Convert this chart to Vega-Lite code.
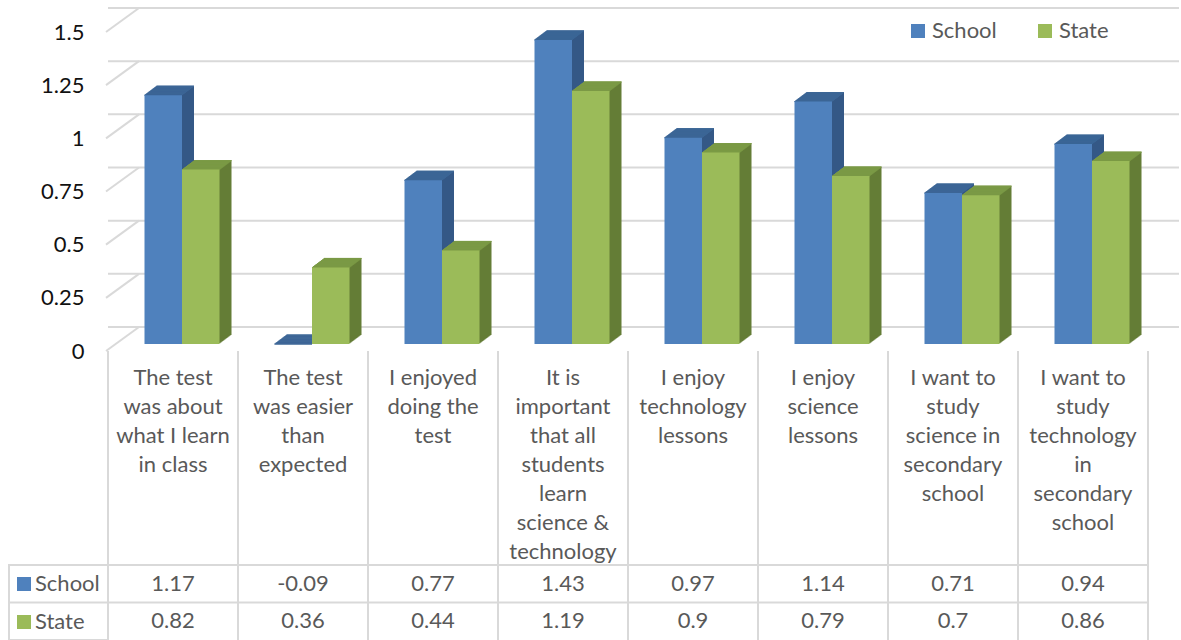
{
  "$schema": "https://vega.github.io/schema/vega-lite/v6.json",
  "autosize": {"type": "pad"},
  "padding": {"left": 7, "top": 7, "right": 0, "bottom": 0},
  "background": "white",
  "config": {
    "view": {"stroke": null},
    "font": "Lato",
    "text": {"font": "Lato"},
    "axis": {"labelFont": "Lato"},
    "legend": {"labelFont": "Lato"}
  },
  "datasets": {
    "survey": [
      {"q": "The test\nwas about\nwhat I learn\nin class", "s": "School", "v": 1.17},
      {"q": "The test\nwas about\nwhat I learn\nin class", "s": "State", "v": 0.82},
      {"q": "The test\nwas easier\nthan\nexpected", "s": "School", "v": -0.09},
      {"q": "The test\nwas easier\nthan\nexpected", "s": "State", "v": 0.36},
      {"q": "I enjoyed\ndoing the\ntest", "s": "School", "v": 0.77},
      {"q": "I enjoyed\ndoing the\ntest", "s": "State", "v": 0.44},
      {"q": "It is\nimportant\nthat all\nstudents\nlearn\nscience &\ntechnology", "s": "School", "v": 1.43},
      {"q": "It is\nimportant\nthat all\nstudents\nlearn\nscience &\ntechnology", "s": "State", "v": 1.19},
      {"q": "I enjoy\ntechnology\nlessons", "s": "School", "v": 0.97},
      {"q": "I enjoy\ntechnology\nlessons", "s": "State", "v": 0.9},
      {"q": "I enjoy\nscience\nlessons", "s": "School", "v": 1.14},
      {"q": "I enjoy\nscience\nlessons", "s": "State", "v": 0.79},
      {"q": "I want to\nstudy\nscience in\nsecondary\nschool", "s": "School", "v": 0.71},
      {"q": "I want to\nstudy\nscience in\nsecondary\nschool", "s": "State", "v": 0.7},
      {"q": "I want to\nstudy\ntechnology\nin\nsecondary\nschool", "s": "School", "v": 0.94},
      {"q": "I want to\nstudy\ntechnology\nin\nsecondary\nschool", "s": "State", "v": 0.86}
    ],
    "ticks": [{"t": 0}, {"t": 0.25}, {"t": 0.5}, {"t": 0.75}, {"t": 1}, {"t": 1.25}, {"t": 1.5}],
    "rows": [{"s": "School"}, {"s": "State"}]
  },
  "columns": 2,
  "spacing": 0,
  "bounds": "flush",
  "resolve": {
    "scale": {"x": "independent", "y": "independent", "color": "independent"},
    "legend": {"color": "independent"}
  },
  "concat": [
    {
      "width": 99, "height": 319,
      "data": {"values": [{}]},
      "mark": {"type": "text"},
      "encoding": {"text": {"value": ""}}
    },
    {
      "width": 1040, "height": 319,
      "layer": [
        {
          "data": {"name": "ticks"},
          "mark": {"type": "rule", "stroke": "#d9d9d9", "strokeWidth": 2, "xOffset": 31, "x2Offset": 31, "yOffset": -24, "y2Offset": -24},
          "encoding": {
            "y": {"field": "t", "type": "quantitative", "scale": {"domain": [0, 1.5], "nice": false, "clamp": true},
                  "axis": {"title": null, "values": [0, 0.25, 0.5, 0.75, 1, 1.25, 1.5], "labelExpr": "datum.value + ''", "domain": false, "ticks": false, "grid": false, "labelPadding": 24, "labelFontSize": 22, "labelColor": "#111111"}}
          }
        },
        {
          "data": {"name": "ticks"},
          "mark": {"type": "rule", "stroke": "#d9d9d9", "strokeWidth": 2, "y2Offset": -24},
          "encoding": {
            "x": {"value": -2},
            "x2": {"value": 31},
            "y": {"field": "t", "type": "quantitative"},
            "y2": {"field": "t"}
          }
        },
        {
          "data": {"name": "survey"},
          "transform": [{"filter": "datum.s === 'School'"}],
          "encoding": {
            "x": {"field": "q", "type": "nominal", "sort": null, "scale": {"paddingInner": 0, "paddingOuter": 0},
                  "axis": {"title": null, "labelExpr": "split(datum.label, '\\n')", "labelAngle": 0, "labelBaseline": "top", "labelPadding": 16, "labelFontSize": 22, "labelLineHeight": 29, "labelColor": "#595959", "labelLimit": 300, "labelOverlap": false, "labelBound": false, "domain": false, "ticks": false, "grid": false}},
            "y": {"field": "v", "type": "quantitative"}
          },
          "layer": [
            {"mark": {"type": "bar", "width": 37.5, "fill": "#345886", "xOffset": -8.75, "yOffset": -7.75, "y2Offset": -7.75}},
            {"mark": {"type": "bar", "width": 37.5, "fill": "#345886", "xOffset": -7.75, "yOffset": -8.5, "y2Offset": -8.5}},
            {"mark": {"type": "bar", "width": 37.5, "fill": "#345886", "xOffset": -6.75, "yOffset": -9.25, "y2Offset": -9.25}},
            {"mark": {"type": "bar", "width": 37.5, "fill": "#345886", "xOffset": -5.75, "yOffset": -10, "y2Offset": -10}},
            {"mark": {"type": "bar", "width": 37.5, "fill": "#345886", "xOffset": -4.75, "yOffset": -10.75, "y2Offset": -10.75}},
            {"mark": {"type": "bar", "width": 37.5, "fill": "#345886", "xOffset": -3.75, "yOffset": -11.5, "y2Offset": -11.5}},
            {"mark": {"type": "bar", "width": 37.5, "fill": "#345886", "xOffset": -2.75, "yOffset": -12.25, "y2Offset": -12.25}},
            {"mark": {"type": "bar", "width": 37.5, "fill": "#345886", "xOffset": -1.75, "yOffset": -13, "y2Offset": -13}},
            {"mark": {"type": "bar", "width": 37.5, "fill": "#345886", "xOffset": -0.75, "yOffset": -13.75, "y2Offset": -13.75}},
            {"mark": {"type": "bar", "width": 37.5, "fill": "#345886", "xOffset": 0.25, "yOffset": -14.5, "y2Offset": -14.5}},
            {"mark": {"type": "bar", "width": 37.5, "fill": "#345886", "xOffset": 1.25, "yOffset": -15.25, "y2Offset": -15.25}},
            {"mark": {"type": "bar", "width": 37.5, "fill": "#345886", "xOffset": 2.25, "yOffset": -16, "y2Offset": -16}},
            {
              "encoding": {"y2": {"field": "v"}},
              "layer": [
                {"mark": {"type": "bar", "width": 37.5, "fill": "#3c6696", "stroke": "#3c6696", "strokeWidth": 1, "xOffset": -9.75, "yOffset": -7, "y2Offset": -7}},
                {"mark": {"type": "bar", "width": 37.5, "fill": "#3c6696", "stroke": "#3c6696", "strokeWidth": 1, "xOffset": -8.75, "yOffset": -7.75, "y2Offset": -7.75}},
                {"mark": {"type": "bar", "width": 37.5, "fill": "#3c6696", "stroke": "#3c6696", "strokeWidth": 1, "xOffset": -7.75, "yOffset": -8.5, "y2Offset": -8.5}},
                {"mark": {"type": "bar", "width": 37.5, "fill": "#3c6696", "stroke": "#3c6696", "strokeWidth": 1, "xOffset": -6.75, "yOffset": -9.25, "y2Offset": -9.25}},
                {"mark": {"type": "bar", "width": 37.5, "fill": "#3c6696", "stroke": "#3c6696", "strokeWidth": 1, "xOffset": -5.75, "yOffset": -10, "y2Offset": -10}},
                {"mark": {"type": "bar", "width": 37.5, "fill": "#3c6696", "stroke": "#3c6696", "strokeWidth": 1, "xOffset": -4.75, "yOffset": -10.75, "y2Offset": -10.75}},
                {"mark": {"type": "bar", "width": 37.5, "fill": "#3c6696", "stroke": "#3c6696", "strokeWidth": 1, "xOffset": -3.75, "yOffset": -11.5, "y2Offset": -11.5}},
                {"mark": {"type": "bar", "width": 37.5, "fill": "#3c6696", "stroke": "#3c6696", "strokeWidth": 1, "xOffset": -2.75, "yOffset": -12.25, "y2Offset": -12.25}},
                {"mark": {"type": "bar", "width": 37.5, "fill": "#3c6696", "stroke": "#3c6696", "strokeWidth": 1, "xOffset": -1.75, "yOffset": -13, "y2Offset": -13}},
                {"mark": {"type": "bar", "width": 37.5, "fill": "#3c6696", "stroke": "#3c6696", "strokeWidth": 1, "xOffset": -0.75, "yOffset": -13.75, "y2Offset": -13.75}},
                {"mark": {"type": "bar", "width": 37.5, "fill": "#3c6696", "stroke": "#3c6696", "strokeWidth": 1, "xOffset": 0.25, "yOffset": -14.5, "y2Offset": -14.5}},
                {"mark": {"type": "bar", "width": 37.5, "fill": "#3c6696", "stroke": "#3c6696", "strokeWidth": 1, "xOffset": 1.25, "yOffset": -15.25, "y2Offset": -15.25}},
                {"mark": {"type": "bar", "width": 37.5, "fill": "#3c6696", "stroke": "#3c6696", "strokeWidth": 1, "xOffset": 2.25, "yOffset": -16, "y2Offset": -16}}
              ]
            },
            {
              "mark": {"type": "bar", "width": 37.5, "xOffset": -9.75, "yOffset": -7, "y2Offset": -7},
              "encoding": {
                "color": {"field": "s", "type": "nominal", "scale": {"domain": ["School", "State"], "range": ["#4f81bd", "#9bbb59"]},
                          "legend": {"orient": "none", "legendX": 799, "legendY": -12, "direction": "horizontal", "title": null, "symbolType": "square", "symbolSize": 196, "symbolStrokeWidth": 0, "symbolOpacity": 1, "labelFontSize": 22, "labelColor": "#595959", "labelOffset": 3, "columnPadding": 37, "padding": 0}}
              }
            }
          ]
        },
        {
          "data": {"name": "survey"},
          "transform": [{"filter": "datum.s === 'State'"}],
          "encoding": {
            "x": {"field": "q", "type": "nominal", "sort": null, "scale": {"paddingInner": 0, "paddingOuter": 0},
                  "axis": {"title": null, "labelExpr": "split(datum.label, '\\n')", "labelAngle": 0, "labelBaseline": "top", "labelPadding": 16, "labelFontSize": 22, "labelLineHeight": 29, "labelColor": "#595959", "labelLimit": 300, "labelOverlap": false, "labelBound": false, "domain": false, "ticks": false, "grid": false}},
            "y": {"field": "v", "type": "quantitative"}
          },
          "layer": [
            {"mark": {"type": "bar", "width": 37.5, "fill": "#647d36", "xOffset": 28.75, "yOffset": -7.75, "y2Offset": -7.75}},
            {"mark": {"type": "bar", "width": 37.5, "fill": "#647d36", "xOffset": 29.75, "yOffset": -8.5, "y2Offset": -8.5}},
            {"mark": {"type": "bar", "width": 37.5, "fill": "#647d36", "xOffset": 30.75, "yOffset": -9.25, "y2Offset": -9.25}},
            {"mark": {"type": "bar", "width": 37.5, "fill": "#647d36", "xOffset": 31.75, "yOffset": -10, "y2Offset": -10}},
            {"mark": {"type": "bar", "width": 37.5, "fill": "#647d36", "xOffset": 32.75, "yOffset": -10.75, "y2Offset": -10.75}},
            {"mark": {"type": "bar", "width": 37.5, "fill": "#647d36", "xOffset": 33.75, "yOffset": -11.5, "y2Offset": -11.5}},
            {"mark": {"type": "bar", "width": 37.5, "fill": "#647d36", "xOffset": 34.75, "yOffset": -12.25, "y2Offset": -12.25}},
            {"mark": {"type": "bar", "width": 37.5, "fill": "#647d36", "xOffset": 35.75, "yOffset": -13, "y2Offset": -13}},
            {"mark": {"type": "bar", "width": 37.5, "fill": "#647d36", "xOffset": 36.75, "yOffset": -13.75, "y2Offset": -13.75}},
            {"mark": {"type": "bar", "width": 37.5, "fill": "#647d36", "xOffset": 37.75, "yOffset": -14.5, "y2Offset": -14.5}},
            {"mark": {"type": "bar", "width": 37.5, "fill": "#647d36", "xOffset": 38.75, "yOffset": -15.25, "y2Offset": -15.25}},
            {"mark": {"type": "bar", "width": 37.5, "fill": "#647d36", "xOffset": 39.75, "yOffset": -16, "y2Offset": -16}},
            {
              "encoding": {"y2": {"field": "v"}},
              "layer": [
                {"mark": {"type": "bar", "width": 37.5, "fill": "#7b9a46", "stroke": "#7b9a46", "strokeWidth": 1, "xOffset": 27.75, "yOffset": -7, "y2Offset": -7}},
                {"mark": {"type": "bar", "width": 37.5, "fill": "#7b9a46", "stroke": "#7b9a46", "strokeWidth": 1, "xOffset": 28.75, "yOffset": -7.75, "y2Offset": -7.75}},
                {"mark": {"type": "bar", "width": 37.5, "fill": "#7b9a46", "stroke": "#7b9a46", "strokeWidth": 1, "xOffset": 29.75, "yOffset": -8.5, "y2Offset": -8.5}},
                {"mark": {"type": "bar", "width": 37.5, "fill": "#7b9a46", "stroke": "#7b9a46", "strokeWidth": 1, "xOffset": 30.75, "yOffset": -9.25, "y2Offset": -9.25}},
                {"mark": {"type": "bar", "width": 37.5, "fill": "#7b9a46", "stroke": "#7b9a46", "strokeWidth": 1, "xOffset": 31.75, "yOffset": -10, "y2Offset": -10}},
                {"mark": {"type": "bar", "width": 37.5, "fill": "#7b9a46", "stroke": "#7b9a46", "strokeWidth": 1, "xOffset": 32.75, "yOffset": -10.75, "y2Offset": -10.75}},
                {"mark": {"type": "bar", "width": 37.5, "fill": "#7b9a46", "stroke": "#7b9a46", "strokeWidth": 1, "xOffset": 33.75, "yOffset": -11.5, "y2Offset": -11.5}},
                {"mark": {"type": "bar", "width": 37.5, "fill": "#7b9a46", "stroke": "#7b9a46", "strokeWidth": 1, "xOffset": 34.75, "yOffset": -12.25, "y2Offset": -12.25}},
                {"mark": {"type": "bar", "width": 37.5, "fill": "#7b9a46", "stroke": "#7b9a46", "strokeWidth": 1, "xOffset": 35.75, "yOffset": -13, "y2Offset": -13}},
                {"mark": {"type": "bar", "width": 37.5, "fill": "#7b9a46", "stroke": "#7b9a46", "strokeWidth": 1, "xOffset": 36.75, "yOffset": -13.75, "y2Offset": -13.75}},
                {"mark": {"type": "bar", "width": 37.5, "fill": "#7b9a46", "stroke": "#7b9a46", "strokeWidth": 1, "xOffset": 37.75, "yOffset": -14.5, "y2Offset": -14.5}},
                {"mark": {"type": "bar", "width": 37.5, "fill": "#7b9a46", "stroke": "#7b9a46", "strokeWidth": 1, "xOffset": 38.75, "yOffset": -15.25, "y2Offset": -15.25}},
                {"mark": {"type": "bar", "width": 37.5, "fill": "#7b9a46", "stroke": "#7b9a46", "strokeWidth": 1, "xOffset": 39.75, "yOffset": -16, "y2Offset": -16}}
              ]
            },
            {
              "mark": {"type": "bar", "width": 37.5, "xOffset": 27.75, "yOffset": -7, "y2Offset": -7},
              "encoding": {
                "color": {"field": "s", "type": "nominal", "scale": {"domain": ["School", "State"], "range": ["#4f81bd", "#9bbb59"]},
                          "legend": {"orient": "none", "legendX": 799, "legendY": -12, "direction": "horizontal", "title": null, "symbolType": "square", "symbolSize": 196, "symbolStrokeWidth": 0, "symbolOpacity": 1, "labelFontSize": 22, "labelColor": "#595959", "labelOffset": 3, "columnPadding": 37, "padding": 0}}
              }
            }
          ]
        }
      ]
    },
    {
      "width": 99, "height": 214,
      "data": {"values": [{}]},
      "mark": {"type": "text"},
      "encoding": {"text": {"value": ""}}
    },
    {
      "width": 1040, "height": 214,
      "data": {"name": "survey"},
      "layer": [
        {
          "transform": [{"filter": "datum.s === 'School'"}],
          "mark": {"type": "rule", "stroke": "#d9d9d9", "strokeWidth": 2},
          "encoding": {"x": {"field": "q", "type": "nominal", "sort": null, "bandPosition": 0, "scale": {"paddingInner": 0, "paddingOuter": 0}, "axis": null}}
        },
        {
          "transform": [{"filter": "datum.s === 'School' && indexof(datum.q, 'technology\\nin') >= 0"}],
          "mark": {"type": "rule", "stroke": "#d9d9d9", "strokeWidth": 2},
          "encoding": {"x": {"field": "q", "type": "nominal", "sort": null, "bandPosition": 1, "axis": null}}
        }
      ]
    },
    {
      "width": 99, "height": 75,
      "view": {"stroke": "#d9d9d9", "strokeWidth": 2},
      "data": {"name": "rows"},
      "encoding": {"y": {"field": "s", "type": "nominal", "sort": ["School", "State"], "scale": {"paddingInner": 0, "paddingOuter": 0}, "axis": null}},
      "layer": [
        {
          "transform": [{"filter": "datum.s === 'State'"}],
          "mark": {"type": "rule", "stroke": "#d9d9d9", "strokeWidth": 2},
          "encoding": {"y": {"field": "s", "type": "nominal", "bandPosition": 0}}
        },
        {
          "mark": {"type": "square", "opacity": 0},
          "encoding": {
            "color": {"field": "s", "type": "nominal", "scale": {"domain": ["School", "State"], "range": ["#4f81bd", "#9bbb59"]},
                      "legend": {"orient": "none", "legendX": 4, "legendY": 8, "direction": "vertical", "title": null, "symbolType": "square", "symbolSize": 196, "symbolStrokeWidth": 0, "symbolOpacity": 1, "labelFontSize": 22, "labelColor": "#595959", "labelOffset": 0, "rowPadding": 16, "padding": 0}}
          }
        }
      ]
    },
    {
      "width": 1040, "height": 75,
      "data": {"name": "survey"},
      "layer": [
        {
          "transform": [{"filter": "datum.s === 'School'"}],
          "mark": {"type": "rule", "stroke": "#d9d9d9", "strokeWidth": 2},
          "encoding": {"x": {"field": "q", "type": "nominal", "sort": null, "bandPosition": 1, "scale": {"paddingInner": 0, "paddingOuter": 0}, "axis": null}}
        },
        {
          "data": {"name": "rows"},
          "mark": {"type": "rule", "stroke": "#d9d9d9", "strokeWidth": 2},
          "encoding": {"y": {"field": "s", "type": "nominal", "sort": ["School", "State"], "bandPosition": 0, "scale": {"paddingInner": 0, "paddingOuter": 0}, "axis": null}}
        },
        {
          "mark": {"type": "text", "fontSize": 22, "color": "#595959", "baseline": "middle"},
          "encoding": {
            "x": {"field": "q", "type": "nominal", "sort": null},
            "y": {"field": "s", "type": "nominal", "sort": ["School", "State"]},
            "text": {"field": "v", "type": "nominal"}
          }
        }
      ]
    }
  ]
}
